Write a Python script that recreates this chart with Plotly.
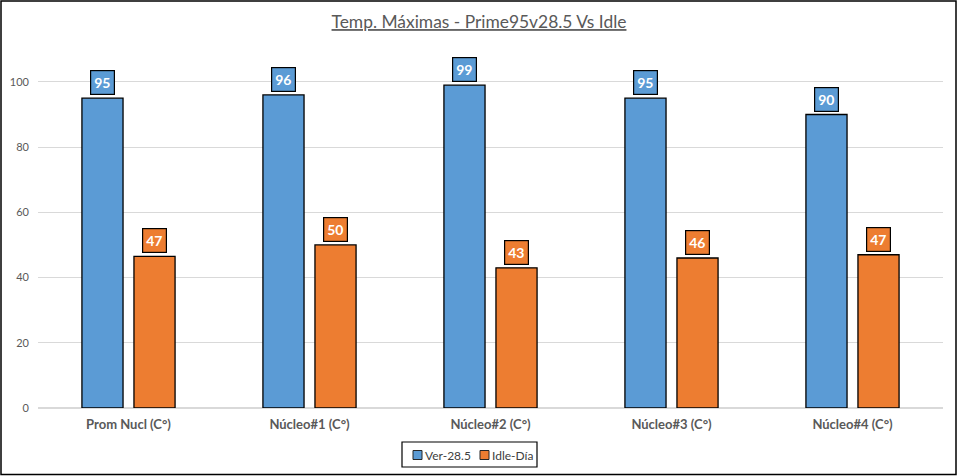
import plotly.graph_objects as go

# --- data ---
categories = ["Prom Nucl (C°)", "Núcleo#1 (C°)", "Núcleo#2 (C°)", "Núcleo#3 (C°)", "Núcleo#4 (C°)"]
series_names = ["Ver-28.5", "Idle-Día"]
ver_285 = [95, 96, 99, 95, 90]
idle_dia = [46.5, 50, 43, 46, 47]
y_ticks = [0, 20, 40, 60, 80, 100]

BLUE = "#5B9BD5"
ORANGE = "#ED7D31"
GREY_TXT = "#595959"
FONT = "Lato"

BARGAP = 0.425
BARGROUPGAP = 0.21

# pixel -> paper helpers (plot area spans x 38..943, y 33..408)
L, R, T, B = 38, 15, 33, 68
W, H = 958, 476
def px_x(px):
    return (px - L) / (W - L - R)
def px_y(py):
    return (H - B - py) / (H - T - B)

fig = go.Figure()
for name, vals, col in [(series_names[0], ver_285, BLUE), (series_names[1], idle_dia, ORANGE)]:
    fig.add_trace(go.Bar(x=categories, y=vals, name=name, showlegend=False,
                         marker=dict(color=col, line=dict(color="black", width=1.3))))

# value labels in boxes above each bar
slot = (1 - BARGAP) / 2
for j, (vals, col) in enumerate([(ver_285, BLUE), (idle_dia, ORANGE)]):
    offset = (j - 0.5) * slot
    for i, v in enumerate(vals):
        fig.add_annotation(
            x=i + offset, y=v, xref="x", yref="y",
            text="<b>%d</b>" % int(v + 0.5),
            showarrow=False, yanchor="bottom", yshift=3,
            font=dict(family=FONT, size=14, color="white"),
            bgcolor=col, bordercolor="black", borderwidth=1.2, borderpad=3,
        )

# outer chart border
fig.add_shape(type="rect", xref="paper", yref="paper",
              x0=px_x(1), x1=px_x(956), y0=px_y(474.5), y1=px_y(1),
              line=dict(color="black", width=1.5), fillcolor="rgba(0,0,0,0)", layer="above")

# legend box (Excel style: small keys right next to the text)
fig.add_shape(type="rect", xref="paper", yref="paper",
              x0=px_x(402), x1=px_x(537), y0=px_y(467), y1=px_y(442),
              line=dict(color="black", width=1.2), fillcolor="white")
for k, (name, col) in enumerate(zip(series_names, [BLUE, ORANGE])):
    sx = 413 + 67 * k
    fig.add_shape(type="rect", xref="paper", yref="paper",
                  x0=px_x(sx), x1=px_x(sx + 9), y0=px_y(459.5), y1=px_y(450.5),
                  line=dict(color="#262626", width=1), fillcolor=col)
    fig.add_annotation(x=px_x(sx + 10), y=px_y(455), xref="paper", yref="paper",
                       text=name, showarrow=False, xanchor="left", yanchor="middle",
                       font=dict(family=FONT, size=12, color="#404040"))

fig.update_layout(
    width=W, height=H,
    margin=dict(l=L, r=R, t=T, b=B, autoexpand=False),
    paper_bgcolor="white", plot_bgcolor="white",
    barmode="group", bargap=BARGAP, bargroupgap=BARGROUPGAP,
    title=dict(text="Temp. Máximas - Prime95v28.5 Vs Idle",
               x=0.5, xref="container", xanchor="center",
               y=1 - 22 / H, yref="container", yanchor="middle",
               font=dict(family=FONT, size=17.4, color=GREY_TXT, lineposition="under")),
    showlegend=False,
)

fig.update_xaxes(showgrid=False, showline=False, ticks="", ticklabelstandoff=7, automargin=False,
                 tickfont=dict(family=FONT, size=13, color=GREY_TXT, weight="bold"))
fig.update_yaxes(range=[0, 115], tickvals=y_ticks, showgrid=True, gridcolor="#D9D9D9",
                 gridwidth=1, zeroline=True, zerolinecolor="#D9D9D9", showline=False,
                 ticks="", ticklabelstandoff=8, automargin=False,
                 tickfont=dict(family=FONT, size=11, color=GREY_TXT))

fig.write_html("out.html", config={"displayModeBar": False},
               post_script="document.body.style.margin='0';")
